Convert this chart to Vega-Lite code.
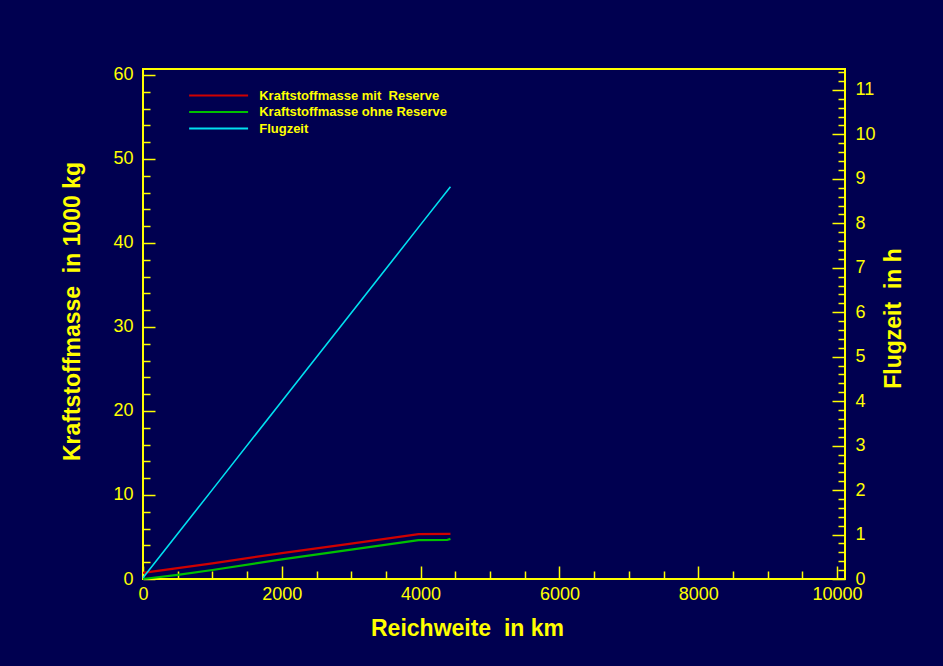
{
  "$schema": "https://vega.github.io/schema/vega-lite/v6.json",
  "width": 702,
  "height": 510,
  "autosize": {"type": "none"},
  "padding": {"left": 143, "top": 69, "right": 98, "bottom": 87},
  "background": "#000050",
  "config": {
    "view": {"stroke": "#ffff00", "strokeWidth": 2, "fill": null},
    "axis": {
      "domain": false,
      "grid": false,
      "tickColor": "#ffff00",
      "tickWidth": 1.5,
      "labelColor": "#ffff00",
      "labelFont": "Liberation Sans",
      "labelFontSize": 18,
      "labelFlush": false,
      "labelOverlap": false,
      "titleColor": "#ffff00",
      "titleFont": "Liberation Sans",
      "titleFontSize": 23,
      "titleFontWeight": "bold"
    }
  },
  "datasets": {
    "masse": [
      {"km": 0, "reihe": "Kraftstoffmasse mit \u00a0Reserve", "t": 0.72},
      {"km": 500, "reihe": "Kraftstoffmasse mit \u00a0Reserve", "t": 1.3},
      {"km": 1000, "reihe": "Kraftstoffmasse mit \u00a0Reserve", "t": 1.87},
      {"km": 2000, "reihe": "Kraftstoffmasse mit \u00a0Reserve", "t": 3.08},
      {"km": 3000, "reihe": "Kraftstoffmasse mit \u00a0Reserve", "t": 4.22},
      {"km": 3970, "reihe": "Kraftstoffmasse mit \u00a0Reserve", "t": 5.34},
      {"km": 4430, "reihe": "Kraftstoffmasse mit \u00a0Reserve", "t": 5.36},
      {"km": 0, "reihe": "Kraftstoffmasse ohne Reserve", "t": 0.0},
      {"km": 500, "reihe": "Kraftstoffmasse ohne Reserve", "t": 0.5},
      {"km": 1000, "reihe": "Kraftstoffmasse ohne Reserve", "t": 1.07},
      {"km": 2000, "reihe": "Kraftstoffmasse ohne Reserve", "t": 2.33},
      {"km": 3000, "reihe": "Kraftstoffmasse ohne Reserve", "t": 3.5},
      {"km": 3970, "reihe": "Kraftstoffmasse ohne Reserve", "t": 4.62},
      {"km": 4380, "reihe": "Kraftstoffmasse ohne Reserve", "t": 4.64},
      {"km": 4430, "reihe": "Kraftstoffmasse ohne Reserve", "t": 4.78}
    ],
    "zeit": [
      {"km": 0, "reihe": "Flugzeit", "h": 0.03},
      {"km": 1000, "reihe": "Flugzeit", "h": 2.01},
      {"km": 2000, "reihe": "Flugzeit", "h": 4.0},
      {"km": 3000, "reihe": "Flugzeit", "h": 5.98},
      {"km": 4000, "reihe": "Flugzeit", "h": 7.97},
      {"km": 4430, "reihe": "Flugzeit", "h": 8.82}
    ]
  },
  "layer": [
    {
      "data": {"name": "masse"},
      "mark": {"type": "line", "strokeWidth": 2.2},
      "encoding": {
        "x": {
          "field": "km", "type": "quantitative",
          "scale": {"domain": [0, 10115], "nice": false, "zero": false},
          "axis": {
            "orient": "bottom",
            "values": [0, 2000, 4000, 6000, 8000, 10000],
            "format": "d",
            "tickSize": -13,
            "labelPadding": 19,
            "title": "Reichweite \u00a0in km",
            "titlePadding": 14,
            "titleX": 324
          }
        },
        "y": {
          "field": "t", "type": "quantitative",
          "scale": {"domain": [0, 60.71], "nice": false, "zero": false},
          "axis": {
            "orient": "left",
            "values": [0, 10, 20, 30, 40, 50, 60],
            "format": "d",
            "tickSize": -12,
            "labelPadding": 22,
            "title": "Kraftstoffmasse \u00a0in 1000 kg",
            "titlePadding": 28,
            "titleY": 242
          }
        },
        "color": {
          "field": "reihe", "type": "nominal",
          "scale": {
            "domain": ["Kraftstoffmasse mit \u00a0Reserve", "Kraftstoffmasse ohne Reserve", "Flugzeit"],
            "range": ["#d00000", "#00c000", "#00e0f0"]
          },
          "legend": {
            "orient": "none",
            "legendX": 68.6,
            "legendY": 19.5,
            "title": null,
            "symbolType": "M-5,0H5",
            "symbolSize": 139,
            "symbolStrokeWidth": 2,
            "labelFont": "Liberation Sans",
            "labelFontSize": 13,
            "labelFontWeight": "bold",
            "labelColor": "#ffff00",
            "labelOffset": 33.6,
            "labelLimit": 0,
            "rowPadding": 2.5
          }
        }
      }
    },
    {
      "data": {"name": "zeit"},
      "mark": {"type": "line", "strokeWidth": 1.6},
      "encoding": {
        "x": {
          "field": "km", "type": "quantitative",
          "scale": {"domain": [0, 10115], "nice": false, "zero": false},
          "axis": null
        },
        "y": {
          "field": "h", "type": "quantitative",
          "scale": {"domain": [0, 11.47], "nice": false, "zero": false},
          "axis": {
            "orient": "right",
            "values": [0, 1, 2, 3, 4, 5, 6, 7, 8, 9, 10, 11],
            "format": "d",
            "tickSize": -13,
            "labelPadding": 23,
            "title": "Flugzeit \u00a0in h",
            "titleAngle": -90,
            "titleBaseline": "middle",
            "titleAlign": "center",
            "titleX": 48,
            "titleY": 249
          }
        },
        "color": {
          "field": "reihe", "type": "nominal",
          "scale": {
            "domain": ["Kraftstoffmasse mit \u00a0Reserve", "Kraftstoffmasse ohne Reserve", "Flugzeit"],
            "range": ["#d00000", "#00c000", "#00e0f0"]
          }
        }
      }
    },
    {
      "data": {"name": "masse"},
      "mark": {"type": "point", "opacity": 0},
      "encoding": {
        "x": {
          "field": "km", "type": "quantitative",
          "scale": {"domain": [0, 10115], "nice": false, "zero": false},
          "axis": {
            "orient": "bottom",
            "values": [500, 1000, 1500, 2500, 3000, 3500, 4500, 5000, 5500, 6500, 7000, 7500, 8500, 9000, 9500],
            "tickSize": -8,
            "labels": false,
            "title": null
          }
        },
        "y": {
          "field": "t", "type": "quantitative",
          "scale": {"domain": [0, 60.71], "nice": false, "zero": false},
          "axis": {
            "orient": "left",
            "values": [2, 4, 6, 8, 12, 14, 16, 18, 22, 24, 26, 28, 32, 34, 36, 38, 42, 44, 46, 48, 52, 54, 56, 58],
            "tickSize": -7,
            "labels": false,
            "title": null
          }
        }
      }
    },
    {
      "data": {"name": "zeit"},
      "mark": {"type": "point", "opacity": 0},
      "encoding": {
        "x": {
          "field": "km", "type": "quantitative",
          "scale": {"domain": [0, 10115], "nice": false, "zero": false},
          "axis": null
        },
        "y": {
          "field": "h", "type": "quantitative",
          "scale": {"domain": [0, 11.47], "nice": false, "zero": false},
          "axis": {
            "orient": "right",
            "values": [0.2, 0.4, 0.6, 0.8, 1.2, 1.4, 1.6, 1.8, 2.2, 2.4, 2.6, 2.8, 3.2, 3.4, 3.6, 3.8, 4.2, 4.4, 4.6, 4.8, 5.2, 5.4, 5.6, 5.8, 6.2, 6.4, 6.6, 6.8, 7.2, 7.4, 7.6, 7.8, 8.2, 8.4, 8.6, 8.8, 9.2, 9.4, 9.6, 9.8, 10.2, 10.4, 10.6, 10.8, 11.2, 11.4],
            "tickSize": -7,
            "labels": false,
            "title": null
          }
        }
      }
    }
  ],
  "resolve": {
    "scale": {"x": "independent", "y": "independent"},
    "axis": {"x": "independent", "y": "independent"}
  }
}
